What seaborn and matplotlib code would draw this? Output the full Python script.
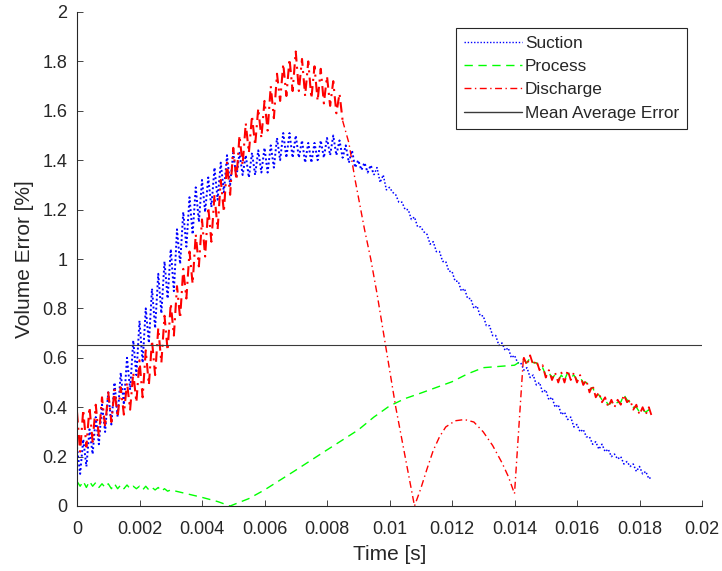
import numpy as np
import seaborn as sns
import matplotlib.pyplot as plt

# sample spacing of the logged signals [s]
dt = 1e-4

# Suction error, sampled every dt from 0 to 0.0184 s
suction_err = [
    0.24, 0.13, 0.27, 0.16, 0.31, 0.21, 0.36, 0.25, 0.41, 0.30,
    0.46, 0.33, 0.50, 0.36, 0.54, 0.41, 0.60, 0.47, 0.67, 0.53,
    0.75, 0.58, 0.80, 0.66, 0.88, 0.72, 0.94, 0.78, 0.99, 0.84,
    1.04, 0.87, 1.12, 0.98, 1.19, 1.05, 1.25, 1.10, 1.29, 1.15,
    1.32, 1.19, 1.33, 1.21, 1.37, 1.24, 1.39, 1.27, 1.42, 1.30,
    1.43, 1.33, 1.43, 1.34, 1.42, 1.33, 1.43, 1.34, 1.44, 1.35,
    1.45, 1.35, 1.46, 1.37, 1.49, 1.40, 1.51, 1.41, 1.51, 1.41,
    1.50, 1.41, 1.48, 1.39, 1.47, 1.39, 1.47, 1.40, 1.48, 1.41,
    1.49, 1.42, 1.50, 1.42, 1.48, 1.41, 1.46, 1.39, 1.44, 1.37,
    1.40, 1.36, 1.39, 1.35, 1.38, 1.34, 1.37, 1.31, 1.34, 1.28,
    1.29, 1.27, 1.26, 1.23, 1.23, 1.20, 1.20, 1.16, 1.17, 1.13,
    1.13, 1.11, 1.10, 1.06, 1.07, 1.03, 1.03, 0.99, 0.99, 0.95,
    0.95, 0.91, 0.91, 0.87, 0.88, 0.84, 0.84, 0.80, 0.81, 0.77,
    0.77, 0.73, 0.73, 0.69, 0.69, 0.65, 0.66, 0.63, 0.64, 0.60,
    0.61, 0.58, 0.58, 0.55, 0.56, 0.52, 0.53, 0.49, 0.50, 0.46,
    0.47, 0.43, 0.44, 0.40, 0.41, 0.37, 0.38, 0.35, 0.36, 0.32,
    0.33, 0.30, 0.31, 0.28, 0.28, 0.25, 0.26, 0.23, 0.25, 0.22,
    0.23, 0.20, 0.21, 0.19, 0.20, 0.17, 0.18, 0.16, 0.17, 0.14,
    0.16, 0.13, 0.14, 0.11, 0.12,
]
suction_noisy_n = 96  # samples in the strongly oscillating part

# Process error: noisy start (every dt from 0), smooth middle, noisy end (every dt from 0.0143)
process_head = [
    0.10, 0.08, 0.10, 0.075, 0.10, 0.08, 0.095, 0.075, 0.09, 0.075,
    0.09, 0.07, 0.09, 0.07, 0.085, 0.07, 0.085, 0.07, 0.08, 0.07,
    0.08, 0.065, 0.08, 0.065, 0.075, 0.065, 0.075, 0.06, 0.07, 0.06,
    0.065,
]
process_mid_t = [0.0035, 0.0040, 0.0045, 0.0049, 0.0055, 0.0060, 0.0070, 0.0080, 0.0090, 0.0095,
                 0.0100, 0.0105, 0.0110, 0.0115, 0.0120, 0.0125, 0.0130, 0.0135, 0.0140, 0.01425]
process_mid = [0.05, 0.035, 0.018, 0.0, 0.03, 0.065, 0.145, 0.227, 0.308, 0.36,
               0.405, 0.435, 0.457, 0.48, 0.503, 0.535, 0.56, 0.565, 0.57, 0.59]
process_tail = [
    0.59, 0.58, 0.60, 0.58, 0.58, 0.56, 0.56, 0.53, 0.54, 0.52,
    0.53, 0.51, 0.53, 0.51, 0.54, 0.52, 0.53, 0.51, 0.52, 0.50,
    0.50, 0.47, 0.48, 0.45, 0.45, 0.43, 0.43, 0.41, 0.42, 0.41,
    0.42, 0.42, 0.45, 0.43, 0.42, 0.40, 0.40, 0.38, 0.39, 0.38,
    0.39, 0.37,
]

# Discharge error: noisy rise (every dt from 0), drop + arc, noisy end (every dt from 0.0143)
discharge_head = [
    0.38, 0.22, 0.39, 0.24, 0.40, 0.26, 0.41, 0.28, 0.44, 0.32,
    0.46, 0.34, 0.47, 0.36, 0.48, 0.37, 0.50, 0.39, 0.54, 0.42,
    0.59, 0.44, 0.63, 0.49, 0.67, 0.53, 0.72, 0.58, 0.77, 0.63,
    0.82, 0.69, 0.89, 0.76, 0.96, 0.84, 1.03, 0.90, 1.10, 0.97,
    1.16, 1.01, 1.21, 1.07, 1.26, 1.12, 1.32, 1.19, 1.39, 1.26,
    1.45, 1.32, 1.50, 1.38, 1.55, 1.43, 1.58, 1.46, 1.61, 1.49,
    1.64, 1.52, 1.70, 1.57, 1.75, 1.64, 1.79, 1.66, 1.81, 1.68,
    1.84, 1.68, 1.81, 1.66, 1.80, 1.65, 1.78, 1.64, 1.77, 1.63,
    1.74, 1.62, 1.72, 1.59, 1.67, 1.56,
]
discharge_mid_t = [0.0087, 0.0089, 0.0092, 0.0094, 0.0096, 0.0099, 0.0102, 0.0105, 0.0108,
                   0.0110, 0.0112, 0.0114, 0.0116, 0.0118, 0.0121, 0.0124, 0.0127, 0.0130,
                   0.0133, 0.0136, 0.0138, 0.0140, 0.01428]
discharge_mid = [1.47, 1.32, 1.12, 1.0, 0.86, 0.63, 0.40, 0.20, 0.0,
                 0.07, 0.15, 0.225, 0.28, 0.32, 0.345, 0.35, 0.34, 0.30,
                 0.245, 0.175, 0.12, 0.05, 0.59]
discharge_tail = [
    0.60, 0.57, 0.61, 0.57, 0.59, 0.55, 0.57, 0.52, 0.55, 0.51,
    0.54, 0.50, 0.54, 0.50, 0.55, 0.51, 0.54, 0.50, 0.53, 0.49,
    0.51, 0.46, 0.49, 0.44, 0.46, 0.42, 0.44, 0.40, 0.43, 0.40,
    0.43, 0.41, 0.45, 0.42, 0.43, 0.39, 0.41, 0.37, 0.40, 0.37,
    0.40, 0.36,
]

mean_avg_err = 0.65
tail_start = 0.0143

xtick_vals = [0, 0.002, 0.004, 0.006, 0.008, 0.01, 0.012, 0.014, 0.016, 0.018, 0.02]
xtick_labels = ['0', '0.002', '0.004', '0.006', '0.008', '0.01', '0.012', '0.014', '0.016', '0.018', '0.02']
ytick_vals = [0, 0.2, 0.4, 0.6, 0.8, 1, 1.2, 1.4, 1.6, 1.8, 2]
ytick_labels = ['0', '0.2', '0.4', '0.6', '0.8', '1', '1.2', '1.4', '1.6', '1.8', '2']

# time axes for each series
suction_t = np.arange(len(suction_err)) * dt
suction_y = np.array(suction_err)
process_t = np.concatenate([np.arange(len(process_head)) * dt, process_mid_t,
                            tail_start + np.arange(len(process_tail)) * dt])
process_y = np.concatenate([process_head, process_mid, process_tail])
discharge_t = np.concatenate([np.arange(len(discharge_head)) * dt, discharge_mid_t,
                              tail_start + np.arange(len(discharge_tail)) * dt])
discharge_y = np.concatenate([discharge_head, discharge_mid, discharge_tail])
n_dh = len(discharge_head)
n_dm = len(discharge_mid)

sns.set_style('ticks')
plt.rcParams['font.family'] = ['Liberation Sans', 'DejaVu Sans']

fig = plt.figure(figsize=(7.22, 5.71), dpi=100)
ax = fig.add_axes([77 / 722, 65 / 571, 625 / 722, 494 / 571])

blue_dot = (0, (1, 1.3))
red_dashdot = (0, (5, 2.5, 1, 2.5))

# Suction: dense oscillating part drawn heavier, quiet part thin
sns.lineplot(x=suction_t[:suction_noisy_n], y=suction_y[:suction_noisy_n], ax=ax,
             estimator=None, sort=False, color='#0000ff', linewidth=1.4,
             linestyle=blue_dot, label='Suction')
sns.lineplot(x=suction_t[suction_noisy_n - 1:], y=suction_y[suction_noisy_n - 1:], ax=ax,
             estimator=None, sort=False, color='#0000ff', linewidth=1.1,
             linestyle=blue_dot)

sns.lineplot(x=process_t, y=process_y, ax=ax, estimator=None, sort=False,
             color='#00ff00', linewidth=1.0, linestyle=(0, (6, 4)), label='Process')

# Discharge: noisy rise, thin drop/arc, noisy tail
sns.lineplot(x=discharge_t[:n_dh], y=discharge_y[:n_dh], ax=ax, estimator=None, sort=False,
             color='#ff0000', linewidth=1.5, linestyle=red_dashdot, label='Discharge')
sns.lineplot(x=discharge_t[n_dh - 1:n_dh + n_dm], y=discharge_y[n_dh - 1:n_dh + n_dm], ax=ax,
             estimator=None, sort=False, color='#ff0000', linewidth=1.0, linestyle=red_dashdot)
sns.lineplot(x=discharge_t[n_dh + n_dm - 1:], y=discharge_y[n_dh + n_dm - 1:], ax=ax,
             estimator=None, sort=False, color='#ff0000', linewidth=1.3, linestyle=red_dashdot)

sns.lineplot(x=[0, 0.02], y=[mean_avg_err, mean_avg_err], ax=ax, estimator=None,
             color='#3a3a3a', linewidth=0.8, label='Mean Average Error')

ax.set_xlim(0, 0.02)
ax.set_ylim(0, 2)
ax.set_xticks(xtick_vals)
ax.set_xticklabels(xtick_labels)
ax.set_yticks(ytick_vals)
ax.set_yticklabels(ytick_labels)
ax.tick_params(direction='in', length=4, width=0.6, color='#262626',
               labelcolor='#262626', labelsize=13)
ax.tick_params(axis='x', pad=11)
ax.tick_params(axis='y', pad=7)
sns.despine(ax=ax)
for side in ['left', 'bottom']:
    ax.spines[side].set_color('#262626')
    ax.spines[side].set_linewidth(0.8)

ax.set_xlabel('Time [s]', fontsize=15, color='#262626', labelpad=5)
ax.set_ylabel('Volume Error [%]', fontsize=15, color='#262626', labelpad=6)

leg = ax.legend(loc='upper left', bbox_to_anchor=(456 / 722, 1 - 28 / 571),
                bbox_transform=fig.transFigure, borderaxespad=0, fancybox=False,
                framealpha=1, edgecolor='#262626', fontsize=12.4, handlelength=3.4,
                handletextpad=0.15, labelspacing=0.48, borderpad=0.45)
leg.get_frame().set_linewidth(0.8)
for line in leg.get_lines():
    line.set_linewidth(1.0)

plt.savefig('out.png', dpi=100)
